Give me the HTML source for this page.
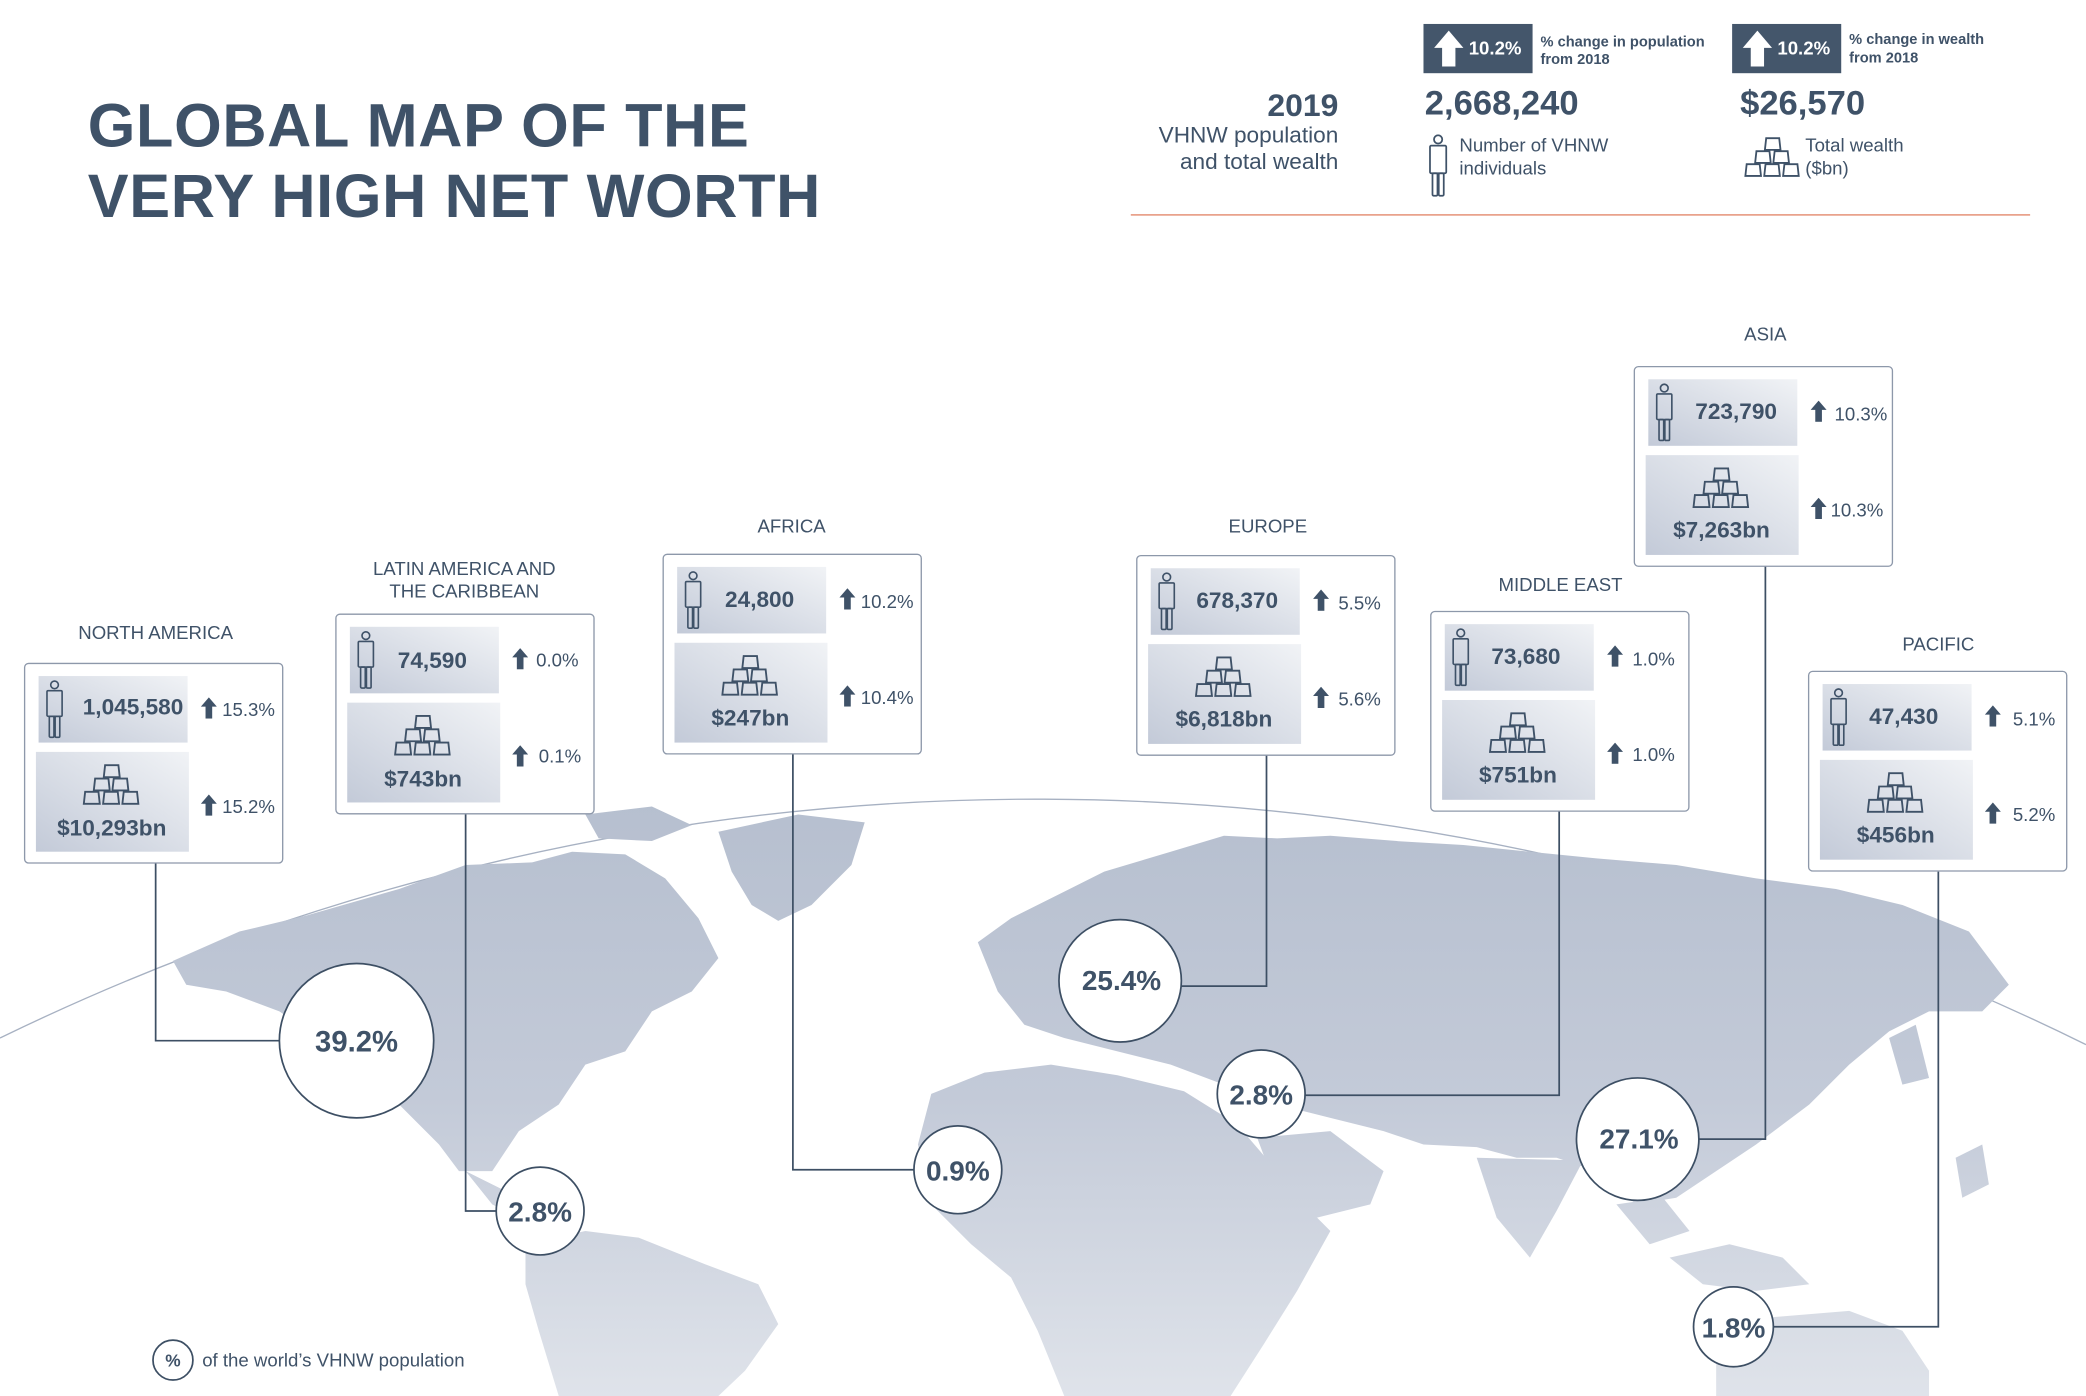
<!DOCTYPE html>
<html><head><meta charset="utf-8"><style>
html,body{margin:0;padding:0;background:#fff;width:2086px;height:1396px;overflow:hidden;position:relative;}
svg{display:block;position:absolute;left:0;top:0;}
text{font-family:"Liberation Sans",sans-serif;fill:#3f5268;}
.b{font-weight:bold;}
</style></head><body>
<svg width="2086" height="1396" viewBox="0 0 1568 1049" preserveAspectRatio="none" xmlns="http://www.w3.org/2000/svg">
<defs>
<linearGradient id="tile" x1="1" y1="0" x2="0" y2="1">
<stop offset="0" stop-color="#f1f3f6"/><stop offset="1" stop-color="#c3cad8"/></linearGradient>
<linearGradient id="map" x1="0" y1="600" x2="0" y2="1049" gradientUnits="userSpaceOnUse">
<stop offset="0" stop-color="#b6bfcf"/><stop offset="0.5" stop-color="#c3cad8"/><stop offset="1" stop-color="#dfe3ea"/></linearGradient>
<symbol id="person" viewBox="0 0 16 50"><g fill="none" stroke="#3f5268" stroke-width="1.4"><circle cx="8" cy="4" r="3.3"/><rect x="1.5" y="9" width="13" height="22" rx="1"/><rect x="3.5" y="31" width="4" height="18" rx="1"/><rect x="8.5" y="31" width="4" height="18" rx="1"/></g></symbol>
<symbol id="gold" viewBox="0 0 46 32"><g fill="none" stroke="#3f5268" stroke-width="1.4"><path d="M18 1h10l1 9h-12z"/><path d="M10.5 11h10l1 9h-12z"/><path d="M24.5 11h10l1 9h-12z"/><path d="M3 21h10l1 9h-12z"/><path d="M17.5 21h10l1 9h-12z"/><path d="M32 21h10l1 9h-12z"/></g></symbol>
<symbol id="arr" viewBox="0 0 12 16"><path d="M6 0L12 7H8.5V16H3.5V7H0Z" fill="#3f5268"/></symbol>
<g id="boxbase">
<rect x="0.5" y="0.5" width="194" height="150" rx="3" fill="#fff" stroke="#8d98aa" stroke-width="1"/>
<rect x="11" y="10" width="112" height="50" fill="url(#tile)"/>
<rect x="9" y="67" width="115" height="75" fill="url(#tile)"/>
<use href="#person" x="16" y="11" width="14" height="48"/>
<use href="#gold" x="43" y="76" width="46" height="32"/>
<use href="#arr" x="133" y="26" width="12" height="16"/>
<use href="#arr" x="133" y="99" width="12" height="16"/>
</g>
</defs>

<path d="M0,780 A1780,1780 0 0 1 1568,785" fill="none" stroke="#a7b1c2" stroke-width="1"/>
<g fill="url(#map)">
<path d="M130,722 L180,700 230,688 300,668 350,650 400,648 430,640 470,642 500,660 525,690 540,720 520,745 490,760 470,790 440,800 420,830 390,850 370,880 345,880 330,860 300,830 270,808 240,780 210,760 170,745 140,740Z"/>
<path d="M540,625 L600,612 650,618 640,650 610,680 585,692 565,680 550,655Z"/>
<path d="M440,612 L490,606 520,620 490,632 450,630Z"/>
<path d="M350,880 L380,895 390,915 370,905Z"/>
<path d="M395,935 L440,925 480,930 530,950 570,965 585,995 560,1030 540,1049 420,1049 405,1000 395,965Z"/>
<path d="M735,708 L760,690 800,670 830,655 880,640 920,628 960,630 1000,628 1050,632 1100,635 1150,640 1200,645 1260,650 1320,660 1380,668 1430,680 1480,700 1510,740 1490,760 1450,760 1420,775 1390,800 1360,830 1320,860 1290,880 1260,900 1230,905 1200,880 1170,870 1140,870 1110,862 1070,860 1040,850 1000,840 960,830 920,815 880,800 840,790 800,780 770,770 750,745Z"/>
<path d="M700,822 L740,806 790,800 840,808 890,820 930,845 960,880 990,915 1000,925 975,970 950,1010 925,1049 800,1049 780,1000 760,960 730,935 700,905 690,860Z"/>
<path d="M945,855 L1000,850 1040,880 1030,905 990,915 960,895Z"/>
<path d="M1110,870 L1190,872 1170,910 1150,945 1125,915Z"/>
<path d="M1215,905 L1250,900 1270,925 1240,935Z"/>
<path d="M1255,945 L1300,935 1340,945 1360,965 1320,970 1280,965Z"/>
<path d="M1290,1020 L1330,990 1390,985 1430,1000 1450,1030 1450,1049 1290,1049Z"/>
<path d="M1470,870 L1490,860 1495,890 1475,900Z"/>
<path d="M1420,780 L1440,770 1450,810 1430,815Z"/>
</g>

<text x="66" y="110" class="b" font-size="46" letter-spacing="0.5">GLOBAL MAP OF THE</text>
<text x="66" y="163" class="b" font-size="46" letter-spacing="0.5">VERY HIGH NET WORTH</text>
<text x="1006" y="87" class="b" font-size="24" text-anchor="end">2019</text>
<text x="1006" y="107" font-size="17" text-anchor="end">VHNW population</text>
<text x="1006" y="127" font-size="17" text-anchor="end">and total wealth</text>
<rect x="1070" y="18" width="82" height="37" fill="#44566b"/>
<path d="M1089,23 L1100,36 H1094 V50 H1084 V36 H1078Z" fill="#fff"/>
<text x="1104" y="41" class="b" font-size="14" style="fill:#fff">10.2%</text>
<text x="1158" y="35" class="b" font-size="11">% change in population</text>
<text x="1158" y="48" class="b" font-size="11">from 2018</text>
<rect x="1302" y="18" width="82" height="37" fill="#44566b"/>
<path d="M1321,23 L1332,36 H1326 V50 H1316 V36 H1310Z" fill="#fff"/>
<text x="1336" y="41" class="b" font-size="14" style="fill:#fff">10.2%</text>
<text x="1390" y="33" class="b" font-size="11">% change in wealth</text>
<text x="1390" y="47" class="b" font-size="11">from 2018</text>
<text x="1071" y="86" class="b" font-size="26">2,668,240</text>
<text x="1308" y="86" class="b" font-size="26">$26,570</text>
<use href="#person" x="1073" y="101" width="16" height="47"/>
<text x="1097" y="114" font-size="14">Number of VHNW</text>
<text x="1097" y="131" font-size="14">individuals</text>
<use href="#gold" x="1310" y="102" width="45" height="33"/>
<text x="1357" y="114" font-size="14">Total wealth</text>
<text x="1357" y="131" font-size="14">($bn)</text>
<line x1="850" y1="161.5" x2="1526" y2="161.5" stroke="#e9a28c" stroke-width="1.3"/>

<g fill="none" stroke="#3d4f64" stroke-width="1.3">
<path d="M117,648 V782 H212"/>
<path d="M350,610 V910 H374"/>
<path d="M596,566 V879 H688"/>
<path d="M952,567 V741 H888"/>
<path d="M1172,609 V823 H981"/>
<path d="M1327,425 V856 H1277"/>
<path d="M1457,655 V997 H1333"/>
</g>
<g fill="#fff" stroke="#3d4f64" stroke-width="1.3">
<circle cx="268" cy="782" r="58"/>
<circle cx="406" cy="910" r="33"/>
<circle cx="720" cy="879" r="33"/>
<circle cx="842" cy="737" r="46"/>
<circle cx="948" cy="822" r="33"/>
<circle cx="1231" cy="856" r="46"/>
<circle cx="1303" cy="997" r="30"/>
<circle cx="130" cy="1022" r="15"/>
</g>
<g text-anchor="middle">
<text x="268" y="790" class="b" font-size="22">39.2%</text>
<text x="406" y="918" class="b" font-size="21">2.8%</text>
<text x="720" y="887" class="b" font-size="21">0.9%</text>
<text x="843" y="744" class="b" font-size="21">25.4%</text>
<text x="948" y="830" class="b" font-size="21">2.8%</text>
<text x="1232" y="863" class="b" font-size="21">27.1%</text>
<text x="1303" y="1005" class="b" font-size="21">1.8%</text>
<text x="130" y="1027" class="b" font-size="13">%</text>
</g>
<text x="152" y="1027" font-size="14">of the world’s VHNW population</text>

<g font-size="14" text-anchor="middle">
<text x="117" y="480">NORTH AMERICA</text>
<text x="349" y="432">LATIN AMERICA AND</text>
<text x="349" y="449">THE CARIBBEAN</text>
<text x="595" y="400">AFRICA</text>
<text x="953" y="400">EUROPE</text>
<text x="1173" y="444">MIDDLE EAST</text>
<text x="1327" y="256">ASIA</text>
<text x="1457" y="489">PACIFIC</text>
</g>

<g transform="translate(18,498)"><use href="#boxbase"/>
<text x="82" y="39" class="b" font-size="17" text-anchor="middle">1,045,580</text><text x="149" y="40" font-size="14">15.3%</text>
<text x="66" y="130" class="b" font-size="17" text-anchor="middle">$10,293bn</text><text x="149" y="113" font-size="14">15.2%</text></g>
<g transform="translate(252,461)"><use href="#boxbase"/>
<text x="73" y="41" class="b" font-size="17" text-anchor="middle">74,590</text><text x="151" y="40" font-size="14">0.0%</text>
<text x="66" y="130" class="b" font-size="17" text-anchor="middle">$743bn</text><text x="153" y="112" font-size="14">0.1%</text></g>
<g transform="translate(498,416)"><use href="#boxbase"/>
<text x="73" y="40" class="b" font-size="17" text-anchor="middle">24,800</text><text x="149" y="41" font-size="14">10.2%</text>
<text x="66" y="129" class="b" font-size="17" text-anchor="middle">$247bn</text><text x="149" y="113" font-size="14">10.4%</text></g>
<g transform="translate(854,417)"><use href="#boxbase"/>
<text x="76" y="40" class="b" font-size="17" text-anchor="middle">678,370</text><text x="152" y="41" font-size="14">5.5%</text>
<text x="66" y="129" class="b" font-size="17" text-anchor="middle">$6,818bn</text><text x="152" y="113" font-size="14">5.6%</text></g>
<g transform="translate(1075,459)"><use href="#boxbase"/>
<text x="72" y="40" class="b" font-size="17" text-anchor="middle">73,680</text><text x="152" y="41" font-size="14">1.0%</text>
<text x="66" y="129" class="b" font-size="17" text-anchor="middle">$751bn</text><text x="152" y="113" font-size="14">1.0%</text></g>
<g transform="translate(1228,275)"><use href="#boxbase"/>
<text x="77" y="40" class="b" font-size="17" text-anchor="middle">723,790</text><text x="151" y="41" font-size="14">10.3%</text>
<text x="66" y="129" class="b" font-size="17" text-anchor="middle">$7,263bn</text><text x="148" y="113" font-size="14">10.3%</text></g>
<g transform="translate(1359,504)"><use href="#boxbase"/>
<text x="72" y="40" class="b" font-size="17" text-anchor="middle">47,430</text><text x="154" y="41" font-size="14">5.1%</text>
<text x="66" y="129" class="b" font-size="17" text-anchor="middle">$456bn</text><text x="154" y="113" font-size="14">5.2%</text></g>
</svg>
</body></html>
